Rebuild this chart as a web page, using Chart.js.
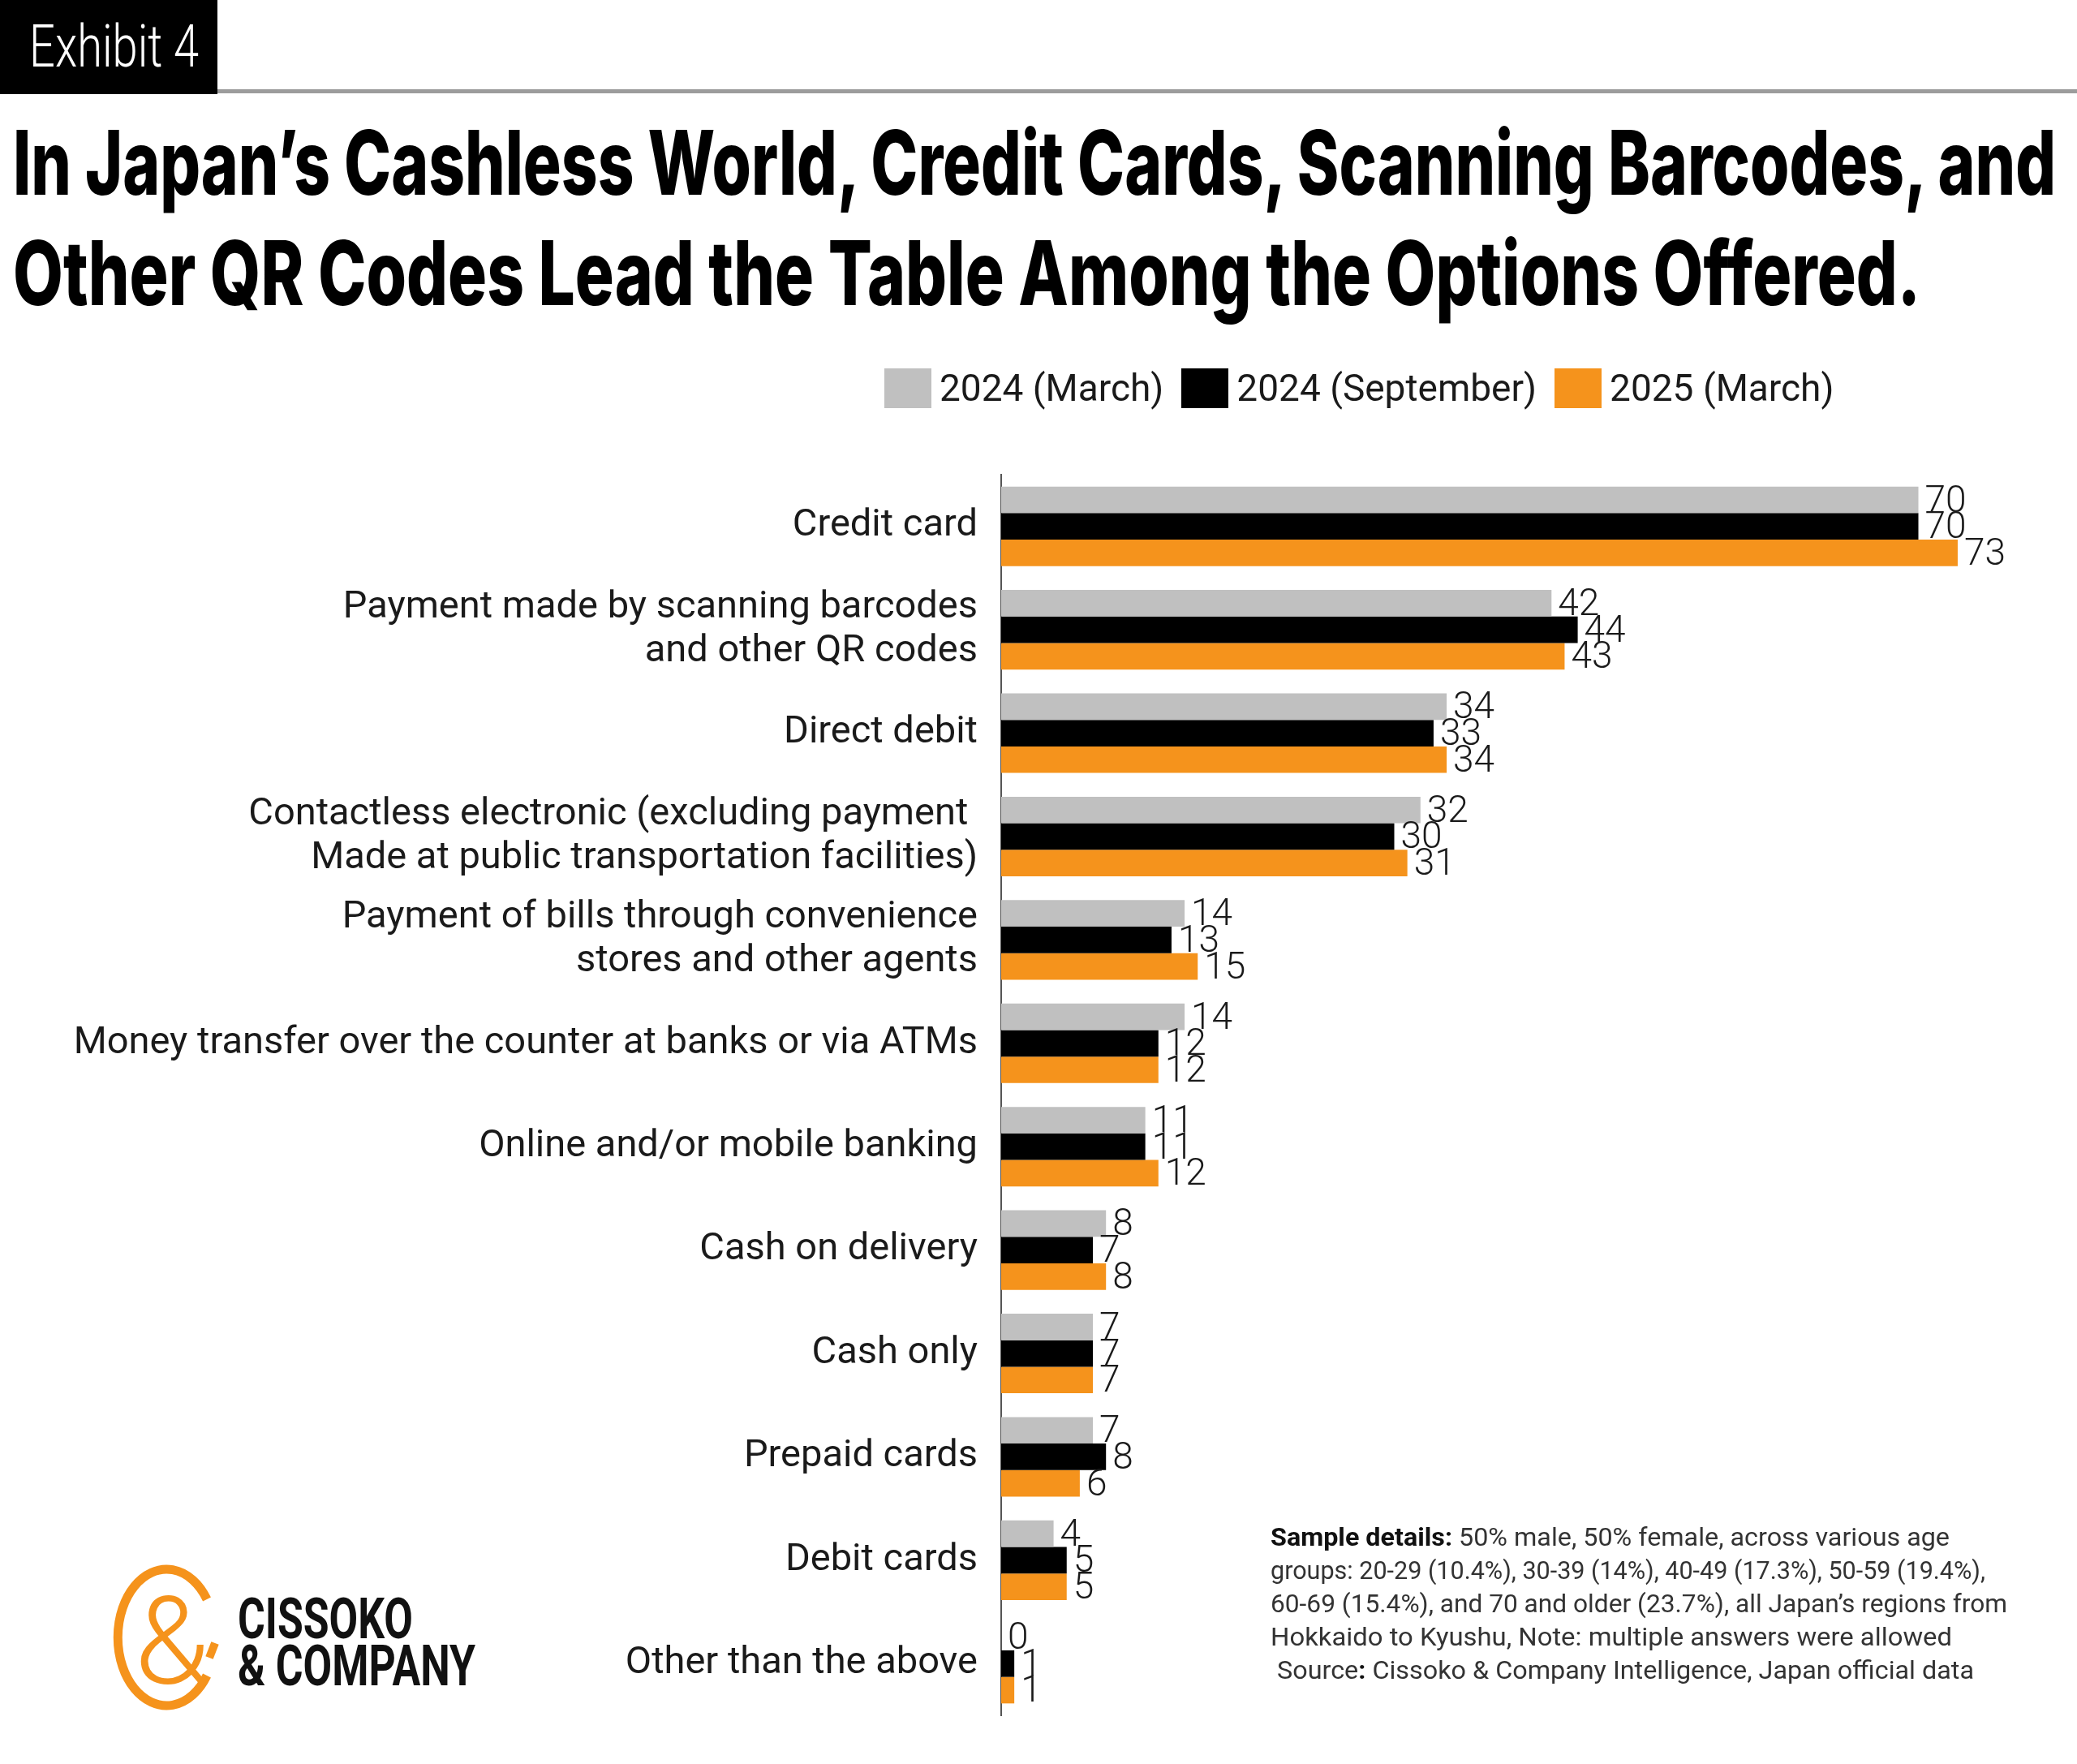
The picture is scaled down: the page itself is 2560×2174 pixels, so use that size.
<!DOCTYPE html>
<html>
<head>
<meta charset="utf-8">
<script src="https://cdn.jsdelivr.net/npm/chart.js@4.4.1/dist/chart.umd.min.js"></script>
<style>
  html, body { margin: 0; padding: 0; background: #fff; }
  body { width: 2560px; height: 2174px; position: relative; overflow: hidden; font-family: Roboto, "Open Sans", sans-serif; color: #1a1a1a; }
  #chart { position: absolute; left: 0; top: 0; z-index: 0; }
  .abs { position: absolute; z-index: 1; }
  .fit { display: inline-block; white-space: nowrap; transform-origin: left center; }
  #exhibit { left: 0; top: 0; width: 268px; height: 116px; background: #000; }
  #exhibit span { position: absolute; left: 36px; top: 18px; color: #fff; font-weight: 300; font-size: 72px; line-height: 80px; }
  #rule { left: 268px; top: 110px; width: 2292px; height: 5px; background: #9c9c9c; }
  .title { left: 16px; font-family: Inter, "Open Sans", sans-serif; font-weight: 800; font-size: 110px; line-height: 110px; color: #000; }
  #legend { left: 1090px; top: 454px; display: flex; align-items: center; }
  #legend .box { width: 58px; height: 49px; margin-right: 10px; }
  #legend .lbl { font-size: 46px; line-height: 49px; margin-right: 22px; color: #1a1a1a; }
  #notes { left: 1566px; top: 1874px; font-size: 32px; line-height: 41px; color: #333; }
  #notes b { color: #111; }
  #logo { left: 138px; top: 1925px; }
  .brand { left: 293px; font-weight: 700; font-size: 70px; line-height: 70px; color: #111; }
</style>
</head>
<body>
<canvas id="chart" width="2560" height="2174"></canvas>

<div id="exhibit" class="abs"><span class="fit" data-w="209">Exhibit 4</span></div>
<div id="rule" class="abs"></div>
<div class="abs title" style="top:145px"><span class="fit" data-w="2518">In Japan’s Cashless World, Credit Cards, Scanning Barcodes, and</span></div>
<div class="abs title" style="top:281px"><span class="fit" data-w="2351">Other QR Codes Lead the Table Among the Options Offered.</span></div>

<div id="legend" class="abs"></div>

<svg id="logo" class="abs" width="150" height="190" viewBox="0 0 150 190">
  <path d="M 117 46 A 60 84 0 1 0 117 140" fill="none" stroke="#f5931c" stroke-width="11"/>
  <path d="M 127 100 L 120 118" fill="none" stroke="#f5931c" stroke-width="10"/>
  <text x="74" y="150" text-anchor="middle" font-family="Roboto, sans-serif" font-weight="300" font-size="150" fill="#f5931c">&amp;</text>
</svg>
<div class="abs brand" style="top:1960px"><span class="fit" data-w="216">CISSOKO</span></div>
<div class="abs brand" style="top:2018px"><span class="fit" data-w="293">&amp; COMPANY</span></div>

<div id="notes" class="abs">
  <div><span class="fit" data-w="837"><b>Sample details:</b> 50% male, 50% female, across various age</span></div>
  <div><span class="fit" data-w="881">groups: 20-29 (10.4%), 30-39 (14%), 40-49 (17.3%), 50-59 (19.4%),</span></div>
  <div><span class="fit" data-w="908">60-69 (15.4%), and 70 and older (23.7%), all Japan’s regions from</span></div>
  <div><span class="fit" data-w="840">Hokkaido to Kyushu, Note: multiple answers were allowed</span></div>
  <div><span class="fit" data-w="867">&nbsp;Source<b>:</b> Cissoko &amp; Company Intelligence, Japan official data</span></div>
</div>

<script>
// ---- data ----
var categories = [
  "Credit card",
  ["Payment made by scanning barcodes", "and other QR codes"],
  "Direct debit",
  ["Contactless electronic (excluding payment ", "Made at public transportation facilities)"],
  ["Payment of bills through convenience", "stores and other agents"],
  "Money transfer over the counter at banks or via ATMs",
  "Online and/or mobile banking",
  "Cash on delivery",
  "Cash only",
  "Prepaid cards",
  "Debit cards",
  "Other than the above"
];
var seriesNames = ["2024 (March)", "2024 (September)", "2025 (March)"];
var mar2024 = [70, 42, 34, 32, 14, 14, 11, 8, 7, 7, 4, 0];
var sep2024 = [70, 44, 33, 30, 13, 12, 11, 7, 7, 8, 5, 1];
var mar2025 = [73, 43, 34, 31, 15, 12, 12, 8, 7, 6, 5, 1];
var seriesColors = ["#c0c0c0", "#000000", "#f5931c"];
var seriesValues = [mar2024, sep2024, mar2025];

// ---- legend (html) ----
var legend = document.getElementById("legend");
seriesNames.forEach(function(name, i) {
  var b = document.createElement("div");
  b.className = "box";
  b.style.background = seriesColors[i];
  var t = document.createElement("div");
  t.className = "lbl";
  t.textContent = name;
  legend.appendChild(b);
  legend.appendChild(t);
});

// squeeze text to the widths seen in the picture
document.querySelectorAll(".fit[data-w]").forEach(function(el) {
  var w = el.getBoundingClientRect().width;
  el.style.transform = "scaleX(" + (parseFloat(el.dataset.w) / w) + ")";
});

/* value labels at the bar ends */
var valueLabels = {
  id: "valueLabels",
  afterDatasetsDraw: function(chart) {
    var ctx = chart.ctx;
    ctx.save();
    ctx.font = "300 46px Roboto, sans-serif";
    ctx.fillStyle = "#1a1a1a";
    ctx.textAlign = "left";
    ctx.textBaseline = "middle";
    chart.data.datasets.forEach(function(ds, i) {
      chart.getDatasetMeta(i).data.forEach(function(bar, j) {
        ctx.fillText(ds.data[j], bar.x + 8, bar.y + 3);
      });
    });
    ctx.restore();
  }
};

new Chart(document.getElementById("chart"), {
  type: "bar",
  data: {
    labels: categories,
    datasets: seriesNames.map(function(name, i) {
      return {
        label: name,
        data: seriesValues[i],
        backgroundColor: seriesColors[i],
        borderWidth: 0,
        categoryPercentage: 0.77,
        barPercentage: 1.0
      };
    })
  },
  options: {
    indexAxis: "y",
    responsive: false,
    animation: false,
    devicePixelRatio: 1,
    layout: { padding: { top: 585, bottom: 60, left: 0, right: 34 } },
    plugins: {
      legend: { display: false },
      tooltip: { enabled: false }
    },
    scales: {
      x: { display: false, min: 0, max: 80 },
      y: {
        afterFit: function(scale) { scale.width = 1234; },
        grid: { display: false, drawTicks: false },
        border: { display: true, color: "#555", width: 2 },
        ticks: {
          padding: 29,
          color: "#1a1a1a",
          font: { family: "Roboto, sans-serif", size: 47, weight: "normal", lineHeight: 1.15 }
        }
      }
    }
  },
  plugins: [valueLabels]
});
</script>
</body>
</html>
